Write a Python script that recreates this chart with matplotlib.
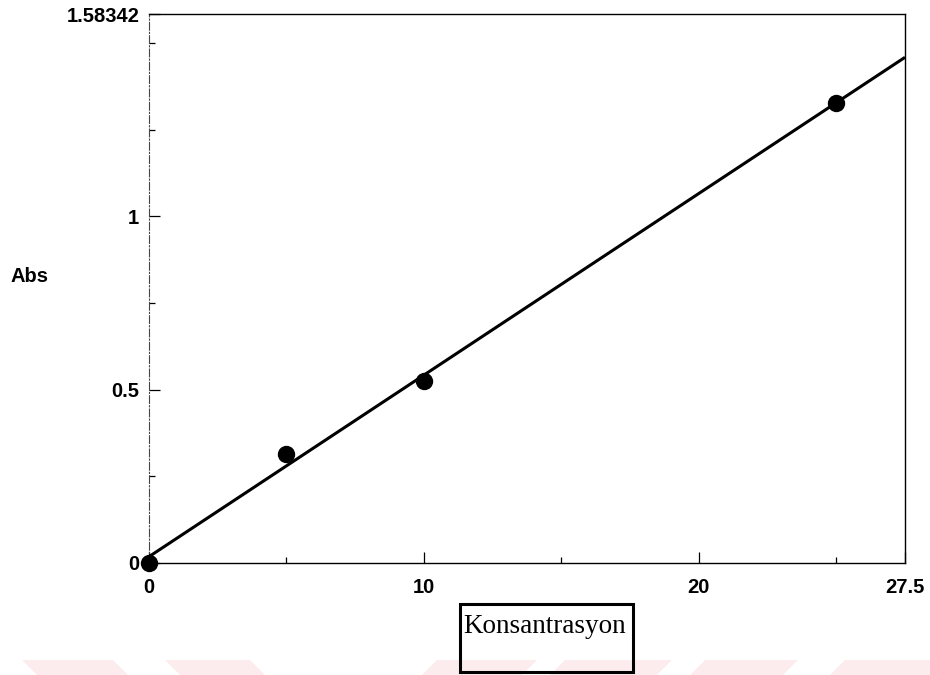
import numpy as np
import matplotlib
matplotlib.use("Agg")
import matplotlib.pyplot as plt
from matplotlib.patches import Rectangle, Polygon

# data
konsantrasyon = [0, 5, 10, 25]
abs_values = [0.0, 0.315, 0.526, 1.327]

x_max = 27.5
y_max = 1.58342
x_major = [0, 10, 20, 27.5]
x_major_labels = ["0", "10", "20", "27.5"]
x_minor = [5, 15, 25]
y_major = [0, 0.5, 1, 1.58342]
y_major_labels = ["0", "0.5", "1", "1.58342"]
y_minor = [0.25, 0.75, 1.25, 1.5]

# least squares line through the points
slope, intercept = np.polyfit(konsantrasyon, abs_values, 1)
fit_x = np.array([0, x_max])
fit_y = slope * fit_x + intercept

W, H = 930, 675
fig = plt.figure(figsize=(W / 100, H / 100), dpi=100)
ax = fig.add_axes([149 / W, 1 - 563 / H, (905 - 149) / W, (563 - 14) / H])

ax.plot(fit_x, fit_y, color="black", lw=2.2, solid_capstyle="butt", zorder=2)
ax.plot(konsantrasyon, abs_values, "o", color="black", ms=11.5, clip_on=False, zorder=3)

ax.set_xlim(0, x_max)
ax.set_ylim(0, y_max)

ax.set_xticks(x_major)
ax.set_xticklabels(x_major_labels)
ax.set_xticks(x_minor, minor=True)
ax.set_yticks(y_major)
ax.set_yticklabels(y_major_labels)
ax.set_yticks(y_minor, minor=True)

ax.tick_params(which="both", direction="in", color="black", width=0.9,
               labelsize=14.5, top=False, right=False)
ax.tick_params(which="major", length=8)
ax.tick_params(which="minor", length=4)
ax.tick_params(axis="x", pad=11)
ax.tick_params(axis="y", pad=7)
for lab in ax.get_xticklabels() + ax.get_yticklabels():
    lab.set_fontfamily("Liberation Sans")
    lab.set_fontweight("bold")

for side in ["top", "right", "bottom"]:
    ax.spines[side].set_linewidth(1.0)
    ax.spines[side].set_color("black")
ax.spines["left"].set_linewidth(0.8)
ax.spines["left"].set_color("#444444")
ax.spines["left"].set_linestyle((0, (7, 2, 1, 2)))

fig.text(10 / W, 1 - 276 / H, "Abs", fontsize=14.5, family="Liberation Sans",
         fontweight="bold", ha="left", va="center")

# boxed x axis title
fig.patches.append(Rectangle((460 / W, 1 - 672 / H), (633 - 460) / W, (672 - 604) / H,
                             transform=fig.transFigure, fill=False, lw=2.2,
                             edgecolor="black", zorder=5))
fig.text(463 / W, 1 - 633 / H, "Konsantrasyon", fontsize=19.5, family="Liberation Serif",
         ha="left", va="baseline", zorder=6)

# faint watermark band at the bottom
pink = "#fdecee"
back = [(22, 113), (165, 250)]
fwd = [(437, 537), (565, 672), (705, 798), (845, 945)]
for a, b in back:
    pts = [(a, 660), (b, 660), (b + 15, 675), (a + 15, 675)]
    fig.patches.append(Polygon([(px / W, 1 - py / H) for px, py in pts],
                               transform=fig.transFigure, color=pink, lw=0, zorder=0))
for a, b in fwd:
    pts = [(a, 660), (b, 660), (b - 15, 675), (a - 15, 675)]
    fig.patches.append(Polygon([(px / W, 1 - py / H) for px, py in pts],
                               transform=fig.transFigure, color=pink, lw=0, zorder=0))

fig.savefig("out.png", dpi=100)
